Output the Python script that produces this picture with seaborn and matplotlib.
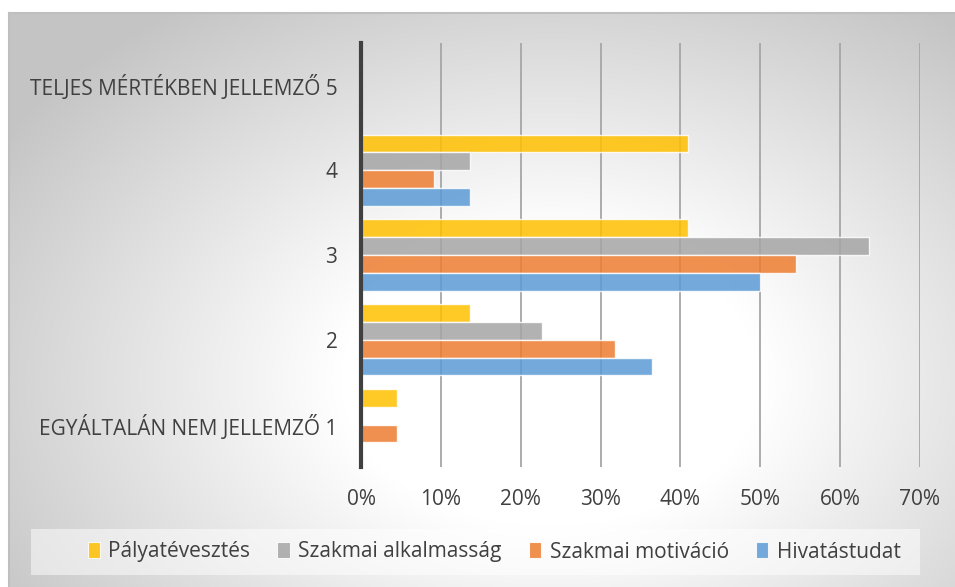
import numpy as np
import pandas as pd
import matplotlib
matplotlib.use("Agg")
import matplotlib.pyplot as plt
from matplotlib.patches import Rectangle
from matplotlib import font_manager
import seaborn as sns

# Response categories (top to bottom)
categories = ["TELJES MÉRTÉKBEN JELLEMZŐ 5", "4", "3", "2", "EGYÁLTALÁN NEM JELLEMZŐ 1"]

# Share of respondents per category (%)
palyatevesztes = [0.0, 40.9, 40.9, 13.6, 4.5]
szakmai_alkalmassag = [0.0, 13.6, 63.6, 22.7, 0.0]
szakmai_motivacio = [0.0, 9.1, 54.5, 31.8, 4.5]
hivatastudat = [0.0, 13.6, 50.0, 36.4, 0.0]

series_names = ["Pályatévesztés", "Szakmai alkalmasság", "Szakmai motiváció", "Hivatástudat"]
series_colors = ["#FFC000", "#A5A5A5", "#ED7D31", "#5B9BD5"]
x_ticks = [0, 10, 20, 30, 40, 50, 60, 70]
x_tick_labels = ["0%", "10%", "20%", "30%", "40%", "50%", "60%", "70%"]

sns.set_theme(style="white")
available = {f.name for f in font_manager.fontManager.ttflist}
base_font = "Liberation Sans Narrow" if "Liberation Sans Narrow" in available else "Open Sans"
plt.rcParams["font.family"] = [base_font, "DejaVu Sans"]
text_color = "#404040"

df = pd.DataFrame({
    "category": categories * 4,
    "series": sum([[n] * len(categories) for n in series_names], []),
    "value": palyatevesztes + szakmai_alkalmassag + szakmai_motivacio + hivatastudat,
})

W, H = 955, 587
fig = plt.figure(figsize=(W / 100, H / 100), dpi=100, facecolor="white")

# Chart area background: soft radial gradient
bg = fig.add_axes([9 / W, 0, 1 - 9 / W, (H - 13) / H], zorder=0)
ny, nx = H - 13, W - 9
yy, xx = np.mgrid[0:ny, 0:nx]
px = xx + 9
py = yy + 13
r = np.sqrt(((px - 550) / 500.0) ** 2 + ((py - 380) / 350.0) ** 2)
t = np.clip((r - 0.42) / (1.3 - 0.42), 0, 1)
val = 1.0 - 0.23 * t
bg.imshow(np.dstack([val, val, val]), aspect="auto", extent=(0, 1, 0, 1), origin="upper")
bg.set_xlim(0, 1)
bg.set_ylim(0, 1)
bg.set_xticks([])
bg.set_yticks([])
for side in ["right", "bottom"]:
    bg.spines[side].set_visible(False)
for side in ["top", "left"]:
    bg.spines[side].set_color("#BFBFBF")
    bg.spines[side].set_linewidth(1.5)

# Legend panel
bg.add_patch(Rectangle(((31 - 9) / nx, 1 - (575 - 13) / ny), (920 - 31) / nx, (575 - 529) / ny,
                       transform=bg.transAxes, facecolor="white", alpha=0.5, edgecolor="none"))

# Main bar chart
ax = fig.add_axes([361 / W, 1 - 467 / H, (920 - 361) / W, (467 - 43) / H], zorder=2)
ax.patch.set_alpha(0)
sns.barplot(data=df, y="category", x="value", hue="series", order=categories,
            hue_order=series_names, palette=series_colors, orient="h", width=0.84,
            saturation=1, alpha=0.85, edgecolor="white", linewidth=1.0, ax=ax,
            legend=False, zorder=3)

ax.set_xlim(0, 70)
ax.set_ylim(4.5, -0.5)
ax.set_xticks(x_ticks)
ax.set_xticklabels(x_tick_labels)
ax.set_xlabel("")
ax.set_ylabel("")
ax.grid(axis="x", color="#A6A6A6", linewidth=1.3, zorder=1)
ax.set_axisbelow(True)
for side in ["top", "right", "bottom"]:
    ax.spines[side].set_visible(False)
ax.spines["left"].set_color("#404040")
ax.spines["left"].set_linewidth(3)
ax.spines["left"].set_zorder(5)
ax.tick_params(axis="both", length=0, colors=text_color, labelsize=15)
ax.tick_params(axis="y", pad=17)
ax.tick_params(axis="x", pad=16)

handles = [Rectangle((0, 0), 1, 1, facecolor=c, alpha=0.85, edgecolor="white", linewidth=0.8)
           for c in series_colors]
fig.legend(handles, series_names, loc="center", bbox_to_anchor=(494 / W, 1 - 552 / H),
           ncol=4, frameon=False, fontsize=15, labelcolor=text_color,
           handlelength=0.6, handleheight=0.8, handletextpad=0.4, columnspacing=1.3)

fig.savefig("out.png", dpi=100, facecolor="white")
